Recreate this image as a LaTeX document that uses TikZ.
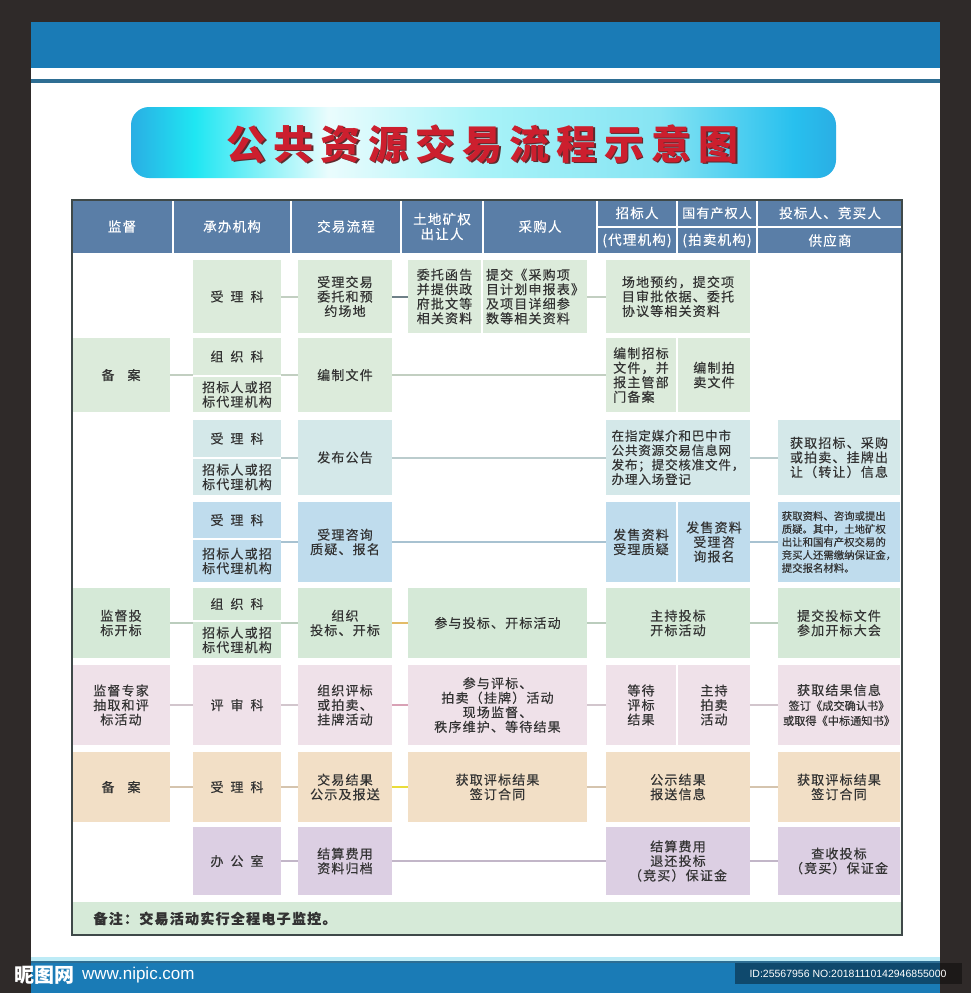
\documentclass[tikz,border=0pt]{standalone}
\usepackage{fontspec}
\setmainfont{Liberation Sans}
\newfontfamily\cjk[LetterSpace=9,FakeBold=0.35]{Noto Sans CJK SC}
\newfontfamily\cjkplain[FakeBold=0.35]{Noto Sans CJK SC}
\newfontfamily\cjkwm{Noto Sans CJK SC}
\newfontfamily\titlefont[LetterSpace=18]{Noto Sans CJK SC}
\definecolor{bgdark}{HTML}{2F2A29}
\definecolor{band}{HTML}{1A7BB6}
\definecolor{bandline}{HTML}{2E6E93}
\definecolor{cyanline}{HTML}{BDEBF6}
\definecolor{gA}{HTML}{DCEBDB}
\definecolor{tB}{HTML}{D4E8E9}
\definecolor{bC}{HTML}{BFDCED}
\definecolor{gD}{HTML}{D5E9D7}
\definecolor{pE}{HTML}{EFE1E9}
\definecolor{oF}{HTML}{F2DFC6}
\definecolor{lG}{HTML}{DCCFE3}
\definecolor{hdr}{HTML}{5A7EA7}
\definecolor{foot}{HTML}{D6EAD8}
\definecolor{txt}{HTML}{333333}
\definecolor{tborder}{HTML}{3F4949}
\definecolor{titlered}{HTML}{CC1F2E}
\definecolor{titleshadow}{HTML}{5E2A2E}
\definecolor{darkconn}{HTML}{6F8088}
\definecolor{goldconn}{HTML}{E3BC68}
\definecolor{pinkconn}{HTML}{D9A2B6}
\definecolor{yellconn}{HTML}{E9DC3A}
\definecolor{bnA}{HTML}{2AAEE4}
\definecolor{bnB}{HTML}{1FE6F2}
\definecolor{bnC}{HTML}{EAFCFD}
\definecolor{bnD}{HTML}{A8F3F8}
\definecolor{bnE}{HTML}{86E4F3}
\definecolor{bnF}{HTML}{28C0EE}
\pgfdeclarehorizontalshading{banner}{100bp}{color(0bp)=(bnA); color(25bp)=(bnA); color(29.5bp)=(bnB); color(39bp)=(bnC); color(50bp)=(bnD); color(62.5bp)=(bnE); color(72bp)=(bnF); color(75bp)=(bnA); color(100bp)=(bnA)}
\newcommand\mkcell[7]{\node[cellbase,#6,minimum width={(#4)-(#2)},minimum height={(#5)-(#3)}] (#1) at ({((#2)+(#4))/2},{((#3)+(#5))/2}) {#7};}
\newcommand\gp{\hspace{7pt}}
\newcommand\gq{\hspace{13pt}}
\begin{document}
\begin{tikzpicture}[x=1pt,y=-1pt,
  cellbase/.style={rectangle,inner sep=1pt,align=center,text=txt,font=\cjk\fontsize{13}{14.5}\selectfont},
  hd/.style={fill=hdr,text=white,font=\cjk\fontsize{13.5}{15}\selectfont},
  fA/.style={fill=gA}, fB/.style={fill=tB}, fC/.style={fill=bC}, fD/.style={fill=gD},
  fE/.style={fill=pE}, fF/.style={fill=oF}, fG/.style={fill=lG},
  lft/.style={align=left},
  conn/.style={line width=2pt,draw=#1!88!black}]
\useasboundingbox (0,0) rectangle (971,993);
% page background
\fill[bgdark] (0,0) rectangle (971,993);
\fill[white] (31,22) rectangle (940,993);
\fill[band] (31,22) rectangle (940,68);
\fill[bandline] (31,79) rectangle (940,83);
\fill[cyanline] (31,957) rectangle (940,961);
\fill[bandline] (31,961) rectangle (940,963);
\fill[band] (31,963) rectangle (940,993);
% title banner
\shade[shading=banner,rounded corners=18pt] (131,107) rectangle (836,178);
\node[font=\titlefont\bfseries\fontsize{40}{42}\selectfont,text=titleshadow] (titlesh) at (484,145.5) {公共资源交易流程示意图};
\node[font=\titlefont\bfseries\fontsize{40}{42}\selectfont,text=titlered] (title) at (482.5,144) {公共资源交易流程示意图};
% header
\mkcell{h1}{72}{200}{172}{253}{hd}{监督}
\mkcell{h2}{174}{200}{290}{253}{hd}{承办机构}
\mkcell{h3}{292}{200}{400}{253}{hd}{交易流程}
\mkcell{h4}{402}{200}{482}{253}{hd,font=\cjk\fontsize{13.5}{15}\selectfont}{土地矿权\\出让人}
\mkcell{h5}{484}{200}{596}{253}{hd}{采购人}
\mkcell{h6a}{598}{200}{676}{226}{hd}{招标人}
\mkcell{h6b}{598}{228}{676}{253}{hd}{(代理机构)}
\mkcell{h7a}{678}{200}{756}{226}{hd,font=\cjk\fontsize{13}{15}\selectfont}{国有产权人}
\mkcell{h7b}{678}{228}{756}{253}{hd}{(拍卖机构)}
\mkcell{h8a}{758}{200}{902}{226}{hd}{投标人、竞买人}
\mkcell{h8b}{758}{228}{902}{253}{hd}{供应商}
% row 1
\mkcell{r1b}{193}{260}{281}{333}{fA}{受\gp 理\gp 科}
\mkcell{r1c}{298}{260}{392}{333}{fA}{受理交易\\委托和预\\约场地}
\mkcell{r1d}{408}{260}{481}{333}{fA}{委托函告\\并提供政\\府批文等\\相关资料}
\mkcell{r1e}{483}{260}{587}{333}{fA,lft}{提交《采购项\\目计划申报表》\\及项目详细参\\数等相关资料}
\mkcell{r1f}{606}{260}{750}{333}{fA,lft}{场地预约，提交项\\目审批依据、委托\\协议等相关资料}
% row 2
\mkcell{r2a}{72}{338}{170}{412}{fA}{备\gq 案}
\mkcell{r2b}{193}{338}{281}{375}{fA}{组\gp 织\gp 科}
\mkcell{r2c}{193}{377}{281}{412}{fA}{招标人或招\\标代理机构}
\mkcell{r2d}{298}{338}{392}{412}{fA}{编制文件}
\mkcell{r2e}{606}{338}{676}{412}{fA,lft}{编制招标\\文件，并\\报主管部\\门备案}
\mkcell{r2f}{678}{338}{750}{412}{fA}{编制拍\\卖文件}
% row 3
\mkcell{r3b}{193}{420}{281}{457}{fB}{受\gp 理\gp 科}
\mkcell{r3c}{193}{459}{281}{495}{fB}{招标人或招\\标代理机构}
\mkcell{r3d}{298}{420}{392}{495}{fB}{发布公告}
\mkcell{r3e}{606}{420}{750}{495}{fB,lft,font=\cjk\fontsize{12.6}{14.5}\selectfont\addfontfeature{LetterSpace=6}}{在指定媒介和巴中市\\公共资源交易信息网\\发布；提交核准文件，\\办理入场登记}
\mkcell{r3f}{778}{420}{900}{495}{fB}{获取招标、采购\\或拍卖、挂牌出\\让（转让）信息}
% row 4
\mkcell{r4b}{193}{502}{281}{538}{fC}{受\gp 理\gp 科}
\mkcell{r4c}{193}{540}{281}{582}{fC}{招标人或招\\标代理机构}
\mkcell{r4d}{298}{502}{392}{582}{fC}{受理咨询\\质疑、报名}
\mkcell{r4e}{606}{502}{676}{582}{fC}{发售资料\\受理质疑}
\mkcell{r4f}{678}{502}{750}{582}{fC}{发售资料\\受理咨\\询报名}
\mkcell{r4g}{778}{502}{900}{582}{fC,lft,font=\cjkplain\fontsize{10.4}{13}\selectfont}{获取资料、咨询或提出\\质疑。其中，土地矿权\\出让和国有产权交易的\\竞买人还需缴纳保证金，\\提交报名材料。}
% row 5
\mkcell{r5a}{72}{588}{170}{658}{fD}{监督投\\标开标}
\mkcell{r5b}{193}{588}{281}{620}{fD}{组\gp 织\gp 科}
\mkcell{r5c}{193}{622}{281}{658}{fD}{招标人或招\\标代理机构}
\mkcell{r5d}{298}{588}{392}{658}{fD}{组织\\投标、开标}
\mkcell{r5e}{408}{588}{587}{658}{fD}{参与投标、开标活动}
\mkcell{r5f}{606}{588}{750}{658}{fD}{主持投标\\开标活动}
\mkcell{r5g}{778}{588}{900}{658}{fD}{提交投标文件\\参加开标大会}
% row 6
\mkcell{r6a}{72}{665}{170}{745}{fE}{监督专家\\抽取和评\\标活动}
\mkcell{r6b}{193}{665}{281}{745}{fE}{评\gp 审\gp 科}
\mkcell{r6c}{298}{665}{392}{745}{fE}{组织评标\\或拍卖、\\挂牌活动}
\mkcell{r6d}{408}{665}{587}{745}{fE}{参与评标、\\拍卖（挂牌）活动\\现场监督、\\秩序维护、等待结果}
\mkcell{r6e}{606}{665}{676}{745}{fE}{等待\\评标\\结果}
\mkcell{r6f}{678}{665}{750}{745}{fE}{主持\\拍卖\\活动}
\mkcell{r6g}{778}{665}{900}{745}{fE,font=\cjkplain\fontsize{11.2}{15}\selectfont}{{\cjk\fontsize{13}{15}\selectfont 获取结果信息}\\签订《成交确认书》\\或取得《中标通知书》}
% row 7
\mkcell{r7a}{72}{752}{170}{822}{fF}{备\gq 案}
\mkcell{r7b}{193}{752}{281}{822}{fF}{受\gp 理\gp 科}
\mkcell{r7c}{298}{752}{392}{822}{fF}{交易结果\\公示及报送}
\mkcell{r7d}{408}{752}{587}{822}{fF}{获取评标结果\\签订合同}
\mkcell{r7e}{606}{752}{750}{822}{fF}{公示结果\\报送信息}
\mkcell{r7f}{778}{752}{900}{822}{fF}{获取评标结果\\签订合同}
% row 8
\mkcell{r8b}{193}{827}{281}{895}{fG}{办\gp 公\gp 室}
\mkcell{r8c}{298}{827}{392}{895}{fG}{结算费用\\资料归档}
\mkcell{r8e}{606}{827}{750}{895}{fG}{结算费用\\退还投标\\（竞买）保证金}
\mkcell{r8f}{778}{827}{900}{895}{fG}{查收投标\\（竞买）保证金}
% footer
\fill[foot] (72,902) rectangle (902,935);
\node[anchor=west,text=txt,font=\cjk\bfseries\fontsize{14}{16}\selectfont] (note) at (90,918.5) {备注：交易活动实行全程电子监控。};
% connectors
\draw[conn=gA] (r1b) -- (r1c);
\draw[line width=2pt,darkconn] (r1c) -- (r1d);
\draw[conn=gA] (r1e) -- (r1f);
\draw[conn=gA] (r2a.east) -- (r2a.east -| r2b.west);
\draw[conn=gA] (r2d.west -| r2b.east) -- (r2d.west);
\draw[conn=gA] (r2d) -- (r2d.east -| r2e.west);
\draw[conn=tB] (r3d.west -| r3b.east) -- (r3d.west);
\draw[conn=tB] (r3d) -- (r3e);
\draw[conn=tB] (r3e) -- (r3f);
\draw[conn=bC] (r4d.west -| r4b.east) -- (r4d.west);
\draw[conn=bC] (r4d.east) -- (r4d.east -| r4e.west);
\draw[conn=bC] (r4f.east) -- (r4f.east -| r4g.west);
\draw[conn=gD] (r5a.east) -- (r5a.east -| r5b.west);
\draw[conn=gD] (r5d.west -| r5b.east) -- (r5d.west);
\draw[line width=2pt,goldconn] (r5d) -- (r5e);
\draw[conn=gD] (r5e) -- (r5f);
\draw[conn=gD] (r5f) -- (r5g);
\draw[conn=pE] (r6a) -- (r6b);
\draw[conn=pE] (r6b) -- (r6c);
\draw[line width=2pt,pinkconn] (r6c) -- (r6d);
\draw[conn=pE] (r6d.east) -- (r6d.east -| r6e.west);
\draw[conn=pE] (r6f.east) -- (r6f.east -| r6g.west);
\draw[conn=oF] (r7a) -- (r7b);
\draw[conn=oF] (r7b) -- (r7c);
\draw[line width=2pt,yellconn] (r7c) -- (r7d);
\draw[conn=oF] (r7d) -- (r7e);
\draw[conn=oF] (r7e) -- (r7f);
\draw[conn=lG] (r8b) -- (r8c);
\draw[conn=lG] (r8c) -- (r8e);
\draw[conn=lG] (r8e) -- (r8f);
% table border
\draw[tborder,line width=1.3pt] (72,200) rectangle (902,935);
% watermark
\node[anchor=west,text=white,font=\cjkwm\bfseries\fontsize{20}{20}\selectfont,inner sep=0pt] (wm1) at (14,975) {昵图网};
\node[anchor=west,text=white,font=\fontsize{17}{17}\selectfont,inner sep=0pt] (wm2) at (82,975) {www.nipic.com};
\fill[black,opacity=0.4] (735,963) rectangle (962,984);
\node[text=white,font=\fontsize{10.5}{12}\selectfont,inner sep=0pt] (wmid) at (848,973.5) {ID:25567956 NO:20181110142946855000};
\end{tikzpicture}
\end{document}
